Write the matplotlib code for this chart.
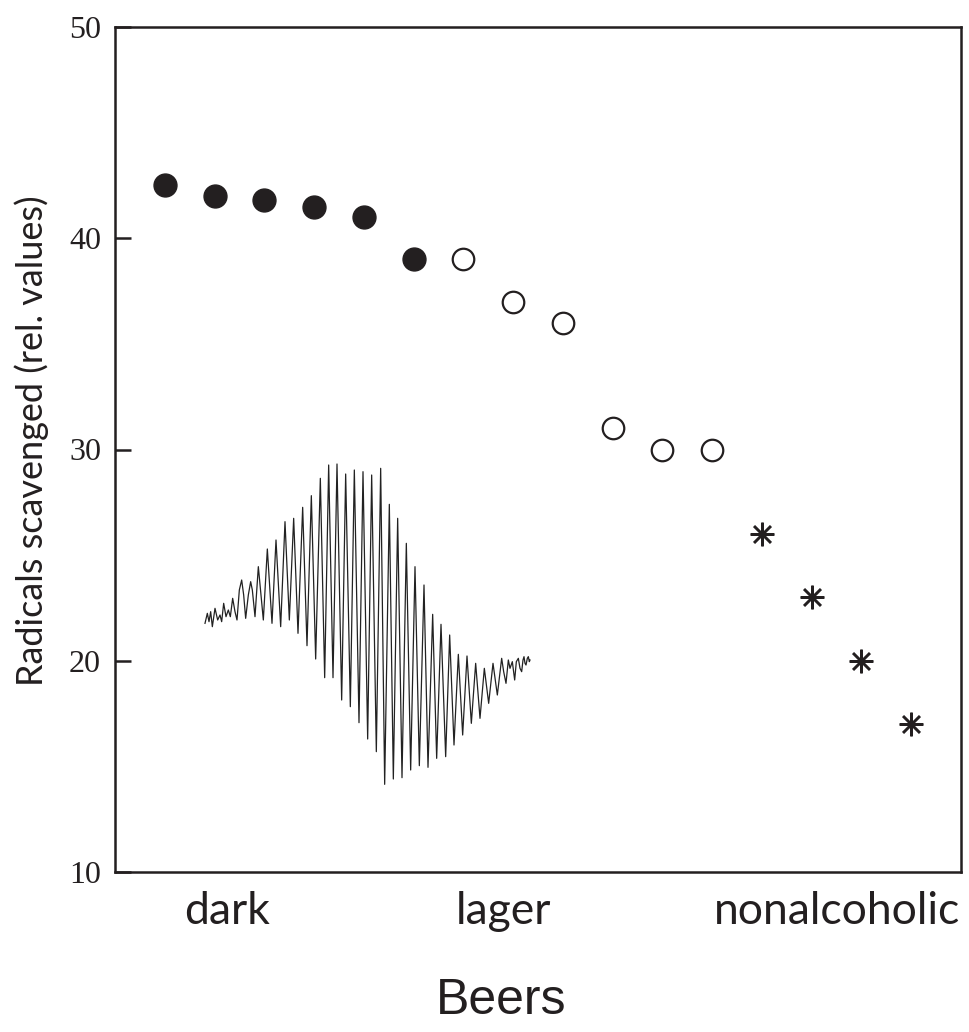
import matplotlib.pyplot as plt

# beers, in order along the x axis
dark_vals = [42.5, 42.0, 41.8, 41.5, 41.0, 39.0]
lager_vals = [39.0, 37.0, 36.0, 31.0, 30.0, 30.0]
nonalc_vals = [26.0, 23.0, 20.0, 17.0]

group_labels = ["dark", "lager", "nonalcoholic"]
group_label_pos = [2.25, 7.8, 14.5]
yticks = [10, 20, 30, 40, 50]

wave_pts = [
    (30, -5), (37, 25), (42, 0), (47, 30), (52, -15), (60, 40), (68, 5),
    (75, 20), (80, 0), (86, 55), (93, 15), (100, 35), (106, 15), (113, 70),
    (120, 30), (126, 5), (133, 95), (140, 125), (146, 80), (152, 10),
    (160, 80), (167, 120), (172, 95), (180, 15), (190, 165), (205, 5),
    (217, 218), (231, -5), (243, 245), (257, -15), (270, 300), (283, 5),
    (296, 310), (309, -35), (323, 343), (336, -72), (349, 378), (362, -112),
    (376, 430), (389, -168), (401, 470), (414, -168), (426, 473), (440, -235),
    (452, 443), (466, -255), (478, 455), (492, -303), (504, 450), (518, -352),
    (530, 440), (544, -390), (557, 460), (569, -488), (583, 352), (595, -472),
    (608, 310), (621, -468), (634, 235), (647, -445), (660, 165), (673, -432),
    (687, 110), (699, -437), (713, 22), (725, -410), (738, -8), (752, -405),
    (764, -40), (777, -370), (790, -98), (803, -340), (816, -103), (829, -305),
    (842, -125), (855, -290), (868, -140), (881, -245), (894, -125),
    (907, -220), (920, -110), (926, -150), (933, -185), (940, -115),
    (945, -140), (952, -120), (959, -175), (964, -120), (970, -110),
    (975, -140), (980, -150), (984, -115), (987, -105), (990, -125),
    (993, -130), (997, -110), (1000, -105), (1003, -120), (1005, -115),
]
wave_x = [p[0] for p in wave_pts]
wave_y = [p[1] for p in wave_pts]

fig = plt.figure(figsize=(9.7, 10.32), dpi=100)
ax = fig.add_axes([115 / 970, 1 - 872 / 1032, 846 / 970, 845 / 1032])

fg = "#231f20"
x_dark = list(range(1, 1 + len(dark_vals)))
x_lager = list(range(x_dark[-1] + 1, x_dark[-1] + 1 + len(lager_vals)))
x_nonalc = list(range(x_lager[-1] + 1, x_lager[-1] + 1 + len(nonalc_vals)))

ax.plot(x_dark, dark_vals, "o", ms=16.5, color=fg, mec=fg)
ax.plot(x_lager, lager_vals, "o", ms=15.5, mfc="white", mec=fg, mew=1.6)
ax.plot(x_nonalc, nonalc_vals, ls="none", marker=(8, 2, 0), ms=17,
        mec=fg, mew=1.8)

ax.set_xlim(0, 17)
ax.set_ylim(10, 50)
ax.set_yticks(yticks)
ax.set_yticklabels([str(t) for t in yticks], fontfamily="Liberation Serif",
                   fontsize=23, color=fg)
ax.tick_params(axis="y", direction="in", length=11.5, width=1.8, pad=10,
               color=fg)
ax.set_xticks(group_label_pos)
ax.set_xticklabels(group_labels, fontfamily="Lato", fontsize=32, color=fg)
ax.tick_params(axis="x", length=0, pad=14)
for s in ax.spines.values():
    s.set_linewidth(1.8)
    s.set_color(fg)

ax.set_ylabel("Radicals scavenged (rel. values)", fontfamily="Lato",
              fontsize=26, color=fg)
ax.yaxis.set_label_coords(-0.078, 0.51)
ax.set_xlabel("Beers", fontfamily="Liberation Sans", fontsize=36, color=fg)
ax.xaxis.set_label_coords(0.456, -0.126)

# inset spectrum
ins = fig.add_axes([195 / 970, 1 - 795 / 1032, 345 / 970, 340 / 1032])
ins.plot(wave_x, wave_y, color="#222222", lw=0.9)
ins.set_xlim(0, 1035)
ins.set_ylim(-520, 500)
ins.axis("off")

fig.savefig("out.png", dpi=100)
